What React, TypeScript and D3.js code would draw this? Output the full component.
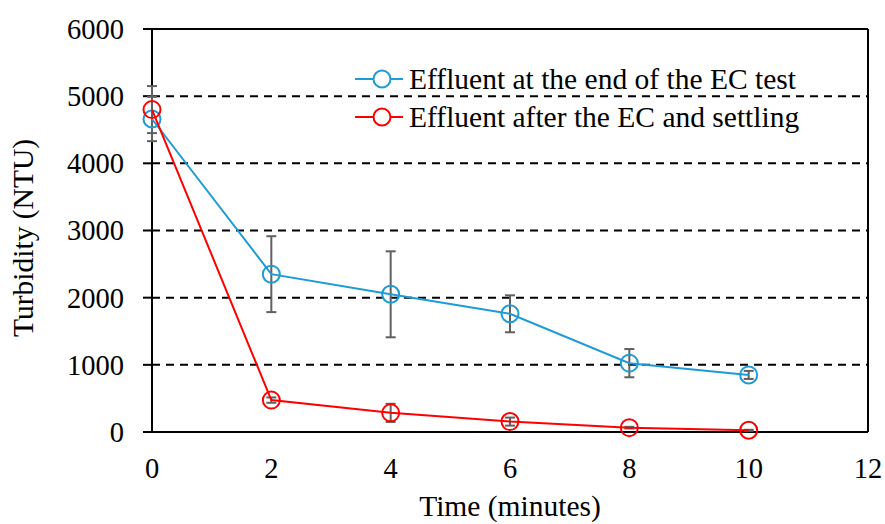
import React from "react";
import * as d3 from "d3";

const times = [0, 2, 4, 6, 8, 10];
const endOfTest = [4660, 2350, 2050, 1760, 1025, 850];
const endOfTestErr = [330, 565, 640, 275, 210, 60];
const afterSettling = [4800, 475, 285, 155, 65, 25];
const afterSettlingErr = [350, 40, 135, 60, 12, 8];
const xTicks = [0, 2, 4, 6, 8, 10, 12];
const yTicks = [0, 1000, 2000, 3000, 4000, 5000, 6000];
const seriesNames = ["Effluent at the end of the EC test", "Effluent after the EC and settling"];

const W = 885, H = 524;
const M = { left: 152, right: 17, top: 29, bottom: 92 };
const BLUE = "#1E9BD7";
const RED = "#FF0000";
const GRAY = "#606060";
const FONT = "'Times New Roman', 'Liberation Serif', serif";

export default function App() {
  const x = d3.scaleLinear().domain([0, 12]).range([M.left, W - M.right]);
  const y = d3.scaleLinear().domain([0, 6000]).range([H - M.bottom, M.top]);
  const line = d3.line<[number, number]>().x(d => x(d[0])).y(d => y(d[1]));

  const series = [
    { name: seriesNames[0], vals: endOfTest, err: endOfTestErr, color: BLUE },
    { name: seriesNames[1], vals: afterSettling, err: afterSettlingErr, color: RED },
  ];

  return (
    <svg width={W} height={H} style={{ position: "absolute", left: 0, top: 0 }} fontFamily={FONT}>
      <rect width={W} height={H} fill="white" />
      {yTicks.filter(t => t > 0 && t < 6000).map(t => (
        <line key={t} x1={x(0)} x2={x(12)} y1={y(t)} y2={y(t)} stroke="black" strokeWidth={2} strokeDasharray="8,6" />
      ))}
      <line x1={x(0)} x2={x(12)} y1={y(6000)} y2={y(6000)} stroke="black" strokeWidth={2} />
      <line x1={x(12)} x2={x(12)} y1={y(6000)} y2={y(0)} stroke="black" strokeWidth={2} />
      <line x1={x(0)} x2={x(0)} y1={y(6000)} y2={y(0)} stroke="black" strokeWidth={2} />
      <line x1={x(0)} x2={x(12)} y1={y(0)} y2={y(0)} stroke="black" strokeWidth={2} />
      {yTicks.map(t => (
        <g key={t}>
          <line x1={x(0) - 9} x2={x(0)} y1={y(t)} y2={y(t)} stroke="black" strokeWidth={2} />
          <text x={124} y={y(t)} dy="0.35em" textAnchor="end" fontSize={28.5}>{t}</text>
        </g>
      ))}
      {xTicks.map(t => (
        <text key={t} x={x(t)} y={y(0) + 46} textAnchor="middle" fontSize={28.5}>{t}</text>
      ))}
      <text x={510} y={516} textAnchor="middle" fontSize={29.5}>Time (minutes)</text>
      <text transform={`translate(33, 238) rotate(-90)`} textAnchor="middle" fontSize={29.5}>Turbidity (NTU)</text>
      {series.map((s, si) => s.vals.map((v, i) => {
        const cx = x(times[i]);
        const y1 = y(v + s.err[i]), y2 = y(v - s.err[i]);
        return (
          <g key={`e${si}-${i}`} stroke={GRAY} strokeWidth={2}>
            <line x1={cx} x2={cx} y1={y1} y2={y2} />
            <line x1={cx - 5} x2={cx + 5} y1={y1} y2={y1} />
            <line x1={cx - 5} x2={cx + 5} y1={y2} y2={y2} />
          </g>
        );
      }))}
      {series.map((s, si) => (
        <g key={`s${si}`}>
          <path d={line(times.map((t, i) => [t, s.vals[i]]) as [number, number][]) || ""} fill="none" stroke={s.color} strokeWidth={2} />
          {s.vals.map((v, i) => (
            <circle key={i} cx={x(times[i])} cy={y(v)} r={8.5} fill="none" stroke={s.color} strokeWidth={2} />
          ))}
        </g>
      ))}
      {series.map((s, si) => {
        const ly = 79 + si * 38;
        return (
          <g key={`l${si}`}>
            <line x1={355} x2={403} y1={ly} y2={ly} stroke={s.color} strokeWidth={2} />
            <circle cx={382} cy={ly} r={8.5} fill="white" stroke={s.color} strokeWidth={2} />
            <text x={409} y={ly} dy="0.35em" fontSize={29.5}>{s.name}</text>
          </g>
        );
      })}
    </svg>
  );
}
